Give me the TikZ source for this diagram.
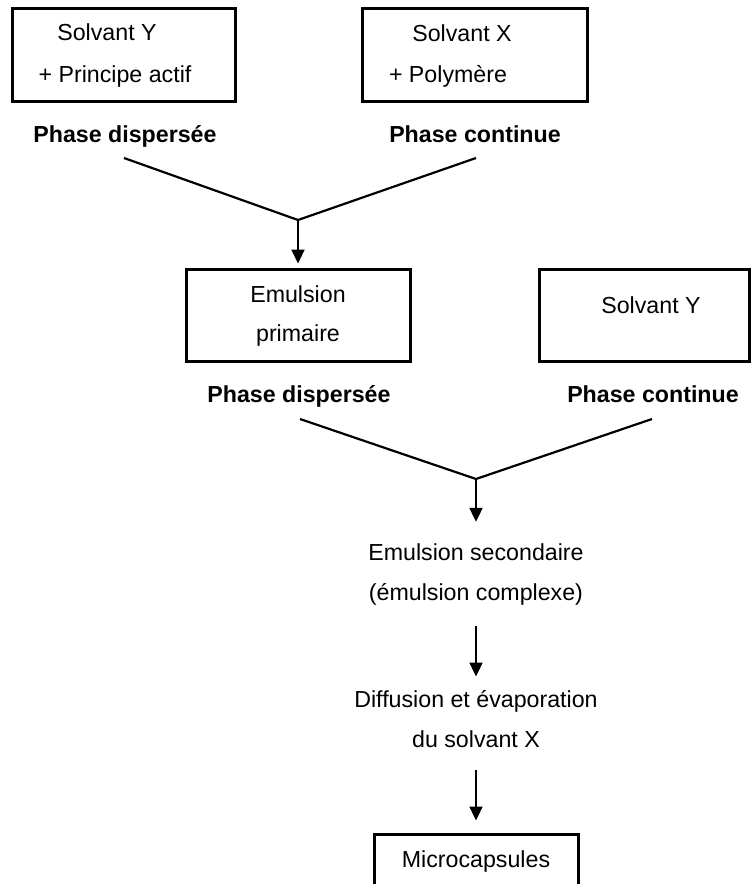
\documentclass[tikz,border=0pt]{standalone}
\usepackage{fontspec}
\setmainfont{Liberation Sans}
\usetikzlibrary{arrows.meta,fit}
\begin{document}
\begin{tikzpicture}[x=0.5pt,y=-0.5pt,
  box/.style={draw, line width=1.5pt, inner sep=0pt},
  txt/.style={inner sep=0pt, anchor=base, font=\fontsize{11.6}{14}\selectfont},
  bold/.style={txt, font=\fontsize{11.6}{14}\selectfont\bfseries},
  link/.style={line width=1.1pt, line join=miter},
  arr/.style={line width=1.1pt, -{Triangle[length=7pt,width=6.5pt]}}]
\useasboundingbox (0,0) rectangle (751,884);
\clip (0,0) rectangle (751,884);

% first stage: the two starting solutions
\node[box, fit={(12,8) (235,101)}] (solY) {};
\node[txt] (solYa) at (107,40) {Solvant Y};
\node[txt] (solYb) at (115,82) {+ Principe actif};
\node[bold] (pd1) at (125,142) {Phase dispersée};

\node[box, fit={(362,8) (587,101)}] (solX) {};
\node[txt] (solXa) at (462,41) {Solvant X};
\node[txt] (solXb) at (448,82) {+ Polymère};
\node[bold] (pc1) at (475,142) {Phase continue};

\coordinate (a1) at (124,158);
\coordinate (b1) at (476,158);
\coordinate (j1) at (298,220);
\draw[link] (a1) -- (j1) -- (b1);

% second stage
\node[box, fit={(186,269) (410,361)}] (emp) {};
\node[txt] (empa) at (298,302) {Emulsion};
\node[txt] (empb) at (298,341) {primaire};
\node[bold] (pd2) at (299,402) {Phase dispersée};

\node[box, fit={(539,269) (749,361)}] (solY2) {};
\node[txt] (solY2a) at (651,313) {Solvant Y};
\node[bold] (pc2) at (653,402) {Phase continue};

\draw[arr, shorten >=2pt] (j1) -- (emp.north);

\coordinate (a2) at (300,419);
\coordinate (b2) at (652,419);
\coordinate (j2) at (476,479);
\draw[link] (a2) -- (j2) -- (b2);

% secondary emulsion and final steps
\node[txt] (sec) at (476,560) {Emulsion secondaire};
\node[txt] (cmp) at (476,600) {(émulsion complexe)};
\node[txt] (dif) at (476,707) {Diffusion et évaporation};
\node[txt] (sol) at (476,747) {du solvant X};

\node[box, fit={(374,834) (578,910)}] (mic) {};
\node[txt] (mica) at (476,867) {Microcapsules};

\draw[arr, shorten >=10.5pt] (j2) -- (sec.north);
\draw[arr, shorten <=10.5pt, shorten >=6.5pt] (cmp.south) -- (dif.north);
\draw[arr, shorten <=11pt, shorten >=6pt] (sol.south) -- (mic.north);
\end{tikzpicture}
\end{document}
